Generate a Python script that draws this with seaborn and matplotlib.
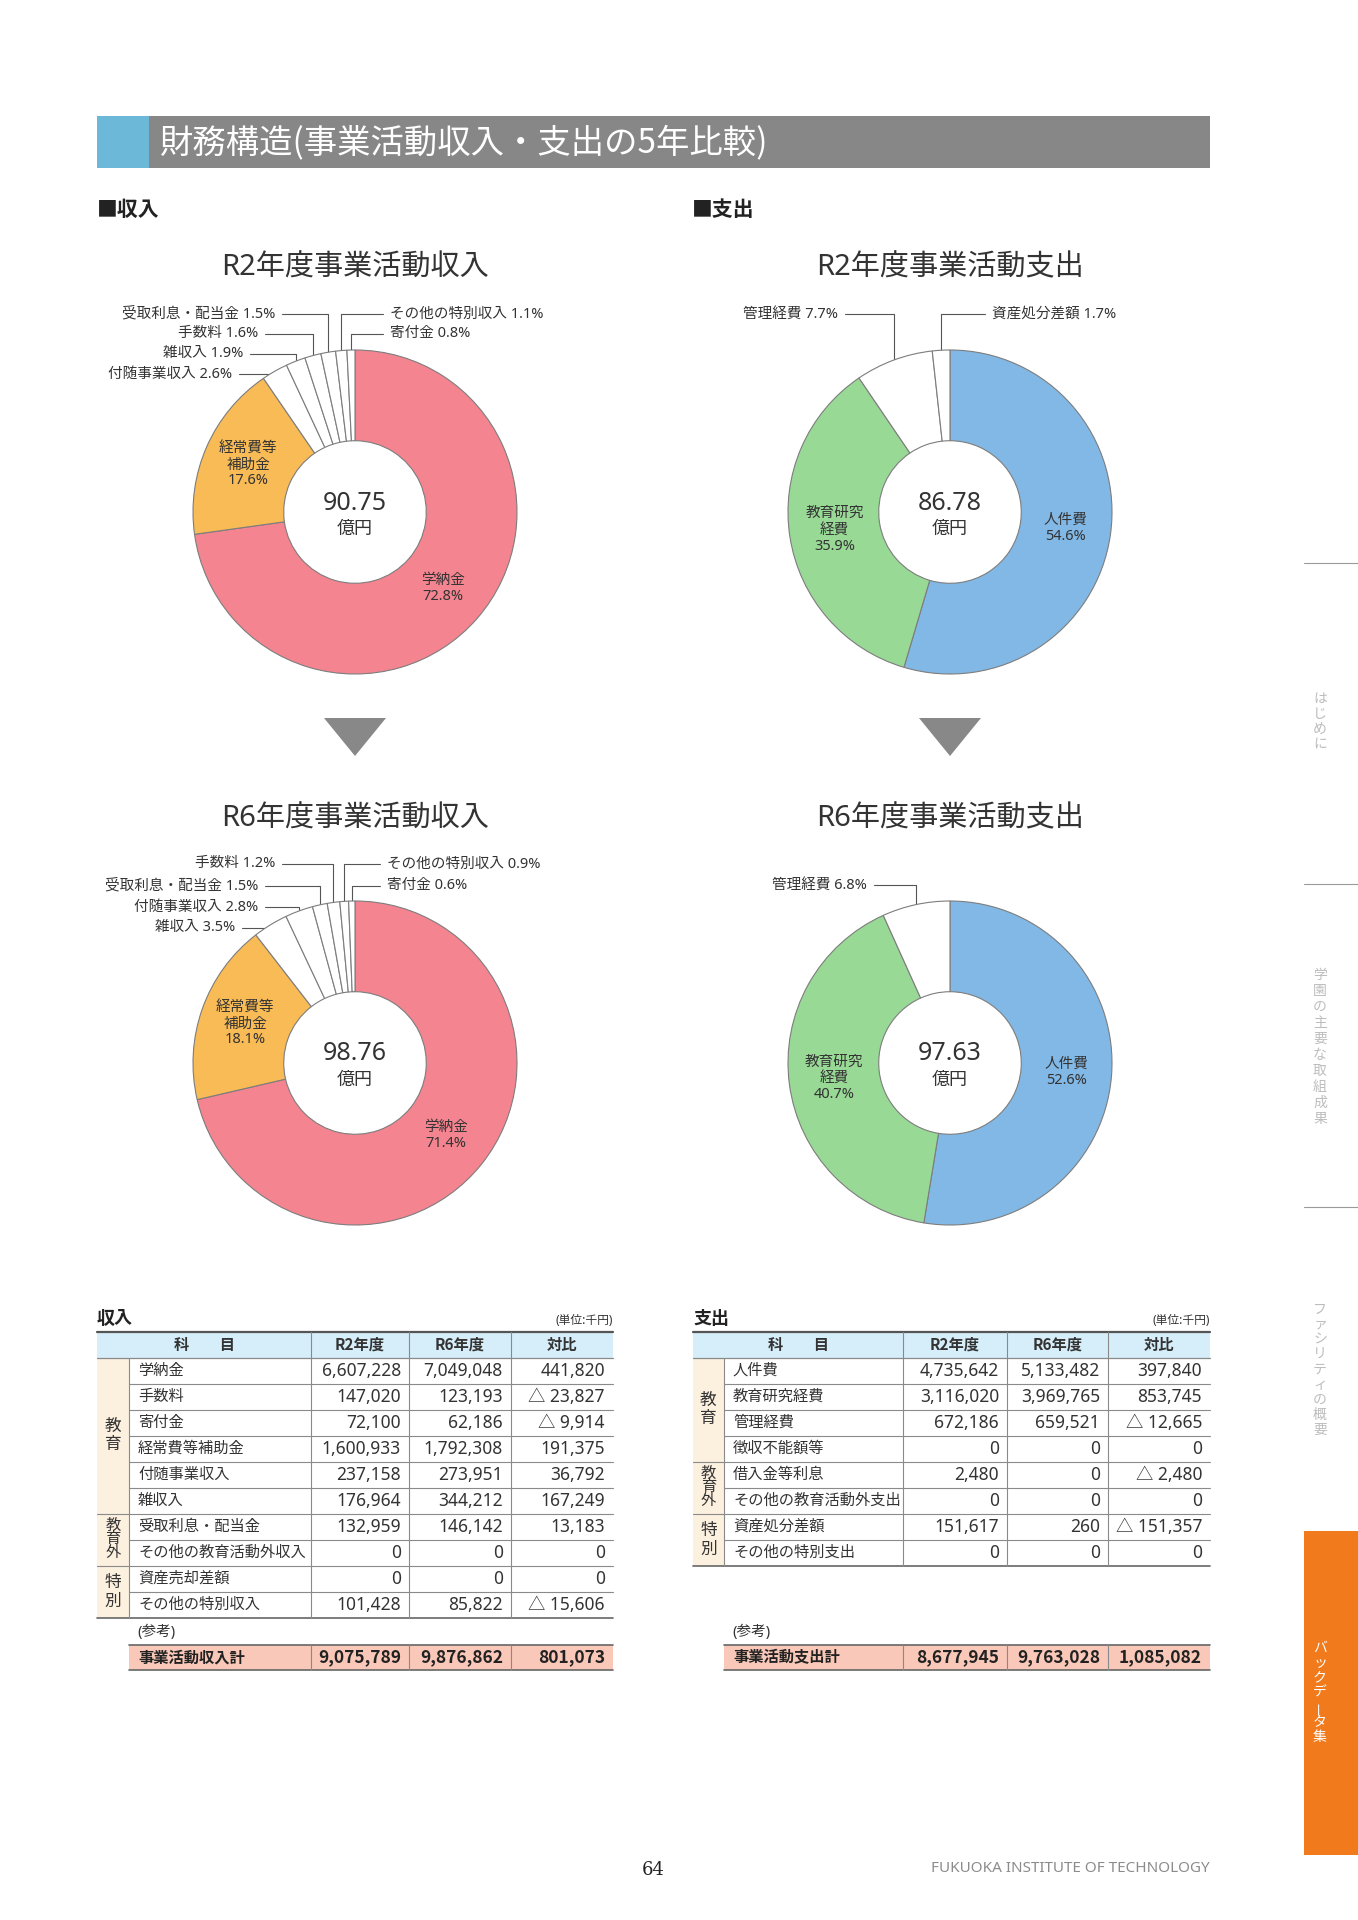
import numpy as np
import matplotlib
matplotlib.use("Agg")
import matplotlib.pyplot as plt
import seaborn as sns
from matplotlib.patches import Rectangle, Polygon

sns.set_theme(style="white")
plt.rcParams["font.family"] = ["Noto Sans", "Noto Sans CJK JP", "DejaVu Sans"]
CJK = ["Noto Sans CJK JP", "DejaVu Sans"]

# ---- table data (単位:千円) ----
income_items = ["学納金", "手数料", "寄付金", "経常費等補助金", "付随事業収入", "雑収入",
                "受取利息・配当金", "その他の教育活動外収入", "資産売却差額", "その他の特別収入"]
income_r2 = [6607228, 147020, 72100, 1600933, 237158, 176964, 132959, 0, 0, 101428]
income_r6 = [7049048, 123193, 62186, 1792308, 273951, 344212, 146142, 0, 0, 85822]
income_diff = [441820, -23827, -9914, 191375, 36792, 167249, 13183, 0, 0, -15606]
income_groups = [("教育", 6), ("教育外", 2), ("特別", 2)]
income_total = [9075789, 9876862, 801073]

expense_items = ["人件費", "教育研究経費", "管理経費", "徴収不能額等", "借入金等利息",
                 "その他の教育活動外支出", "資産処分差額", "その他の特別支出"]
expense_r2 = [4735642, 3116020, 672186, 0, 2480, 0, 151617, 0]
expense_r6 = [5133482, 3969765, 659521, 0, 0, 0, 260, 0]
expense_diff = [397840, 853745, -12665, 0, -2480, 0, -151357, 0]
expense_groups = [("教育", 4), ("教育外", 2), ("特別", 2)]
expense_total = [8677945, 9763028, 1085082]

# ---- pie slices, clockwise from 12 o'clock, with printed percentages ----
inc_r2_slices = ["学納金", "経常費等補助金", "付随事業収入", "雑収入", "手数料",
                 "受取利息・配当金", "その他の特別収入", "寄付金"]
inc_r2_pct = [72.8, 17.6, 2.6, 1.9, 1.6, 1.5, 1.1, 0.8]
inc_r6_slices = ["学納金", "経常費等補助金", "雑収入", "付随事業収入", "受取利息・配当金",
                 "手数料", "その他の特別収入", "寄付金"]
inc_r6_pct = [71.4, 18.1, 3.5, 2.8, 1.5, 1.2, 0.9, 0.6]
exp_r2_slices = ["人件費", "教育研究経費", "管理経費", "資産処分差額"]
exp_r2_pct = [54.6, 35.9, 7.7, 1.7]
exp_r6_slices = ["人件費", "教育研究経費", "管理経費"]
exp_r6_pct = [52.6, 40.7, 6.8]
center_values = ["90.75", "86.78", "98.76", "97.63"]

slice_colors = {"学納金": "#f4848f", "経常費等補助金": "#f8bb55",
                "人件費": "#82b8e5", "教育研究経費": "#99d996"}
inner_names = {"学納金": "学納金", "経常費等補助金": "経常費等\n補助金",
               "人件費": "人件費", "教育研究経費": "教育研究\n経費"}

W, H = 1358, 1920
TXT = "#333333"
fig = plt.figure(figsize=(W / 100, H / 100), dpi=100)
page = fig.add_axes([0, 0, 1, 1])
page.set_xlim(0, W)
page.set_ylim(H, 0)
page.axis("off")

# title bar
page.add_patch(Rectangle((97, 116), 52, 52, color="#6cb8d8", lw=0))
page.add_patch(Rectangle((149, 116), 1061, 52, color="#878787", lw=0))
page.text(160, 143, "財務構造(事業活動収入・支出の5年比較)", color="white",
          fontsize=24, va="center", family=CJK)
page.text(97, 209, "■収入", fontsize=15, fontweight="bold", va="center", color="#222", family=CJK)
page.text(692, 209, "■支出", fontsize=15, fontweight="bold", va="center", color="#222", family=CJK)

R = 162


def lookup(items, vals):
    return dict(zip(items, vals))


def draw_pie(cx, cy, title, names, table, pcts, center_txt, leaders):
    page.text(cx, cy - 244, title, fontsize=21, ha="center", va="center", color=TXT)
    L = 1.08
    ax = fig.add_axes([(cx - L * R) / W, 1 - (cy + L * R) / H, 2 * L * R / W, 2 * L * R / H])
    values = [table[n] for n in names]
    cols = [slice_colors.get(n, "white") for n in names]
    wedges, _ = ax.pie(values, colors=cols, startangle=90, counterclock=False,
                       wedgeprops=dict(width=0.56, edgecolor="#7d7d7d", linewidth=0.8))
    ax.set_xlim(-L, L)
    ax.set_ylim(-L, L)
    ax.set_aspect("equal")
    ax.axis("off")
    for w, n, p in zip(wedges, names, pcts):
        mid = np.deg2rad((w.theta1 + w.theta2) / 2)
        if n in inner_names:
            ax.text(0.72 * np.cos(mid), 0.72 * np.sin(mid), f"{inner_names[n]}\n{p}%",
                    ha="center", va="center", fontsize=10.5, linespacing=1.1, color=TXT)
        else:
            side, tx, ty = leaders[n]
            ex, ey = cx + R * np.cos(mid), cy - R * np.sin(mid)
            if side == "l":
                page.plot([tx + 7, ex, ex], [ty, ty, ey], color="#555", lw=0.8)
                page.text(tx, ty, f"{n} {p}%", ha="right", va="center", fontsize=10.5, color=TXT)
            else:
                page.plot([tx - 7, ex, ex], [ty, ty, ey], color="#555", lw=0.8)
                page.text(tx, ty, f"{n} {p}%", ha="left", va="center", fontsize=10.5, color=TXT)
    page.text(cx, cy - 9, center_txt, fontsize=18, ha="center", va="center", color=TXT)
    page.text(cx, cy + 17, "億円", fontsize=13, ha="center", va="center", color=TXT)


inc_r2_tab = lookup(income_items, income_r2)
inc_r6_tab = lookup(income_items, income_r6)
exp_r2_tab = lookup(expense_items, expense_r2)
exp_r6_tab = lookup(expense_items, expense_r6)

draw_pie(355, 512, "R2年度事業活動収入", inc_r2_slices, inc_r2_tab, inc_r2_pct, center_values[0],
         {"受取利息・配当金": ("l", 275, 314), "手数料": ("l", 258, 334),
          "雑収入": ("l", 243, 354), "付随事業収入": ("l", 232, 374),
          "その他の特別収入": ("r", 390, 314), "寄付金": ("r", 390, 334)})
draw_pie(950, 512, "R2年度事業活動支出", exp_r2_slices, exp_r2_tab, exp_r2_pct, center_values[1],
         {"管理経費": ("l", 838, 314), "資産処分差額": ("r", 992, 314)})
draw_pie(355, 1063, "R6年度事業活動収入", inc_r6_slices, inc_r6_tab, inc_r6_pct, center_values[2],
         {"手数料": ("l", 275, 864), "受取利息・配当金": ("l", 258, 886),
          "付随事業収入": ("l", 258, 907), "雑収入": ("l", 235, 928),
          "その他の特別収入": ("r", 387, 864), "寄付金": ("r", 387, 886)})
draw_pie(950, 1063, "R6年度事業活動支出", exp_r6_slices, exp_r6_tab, exp_r6_pct, center_values[3],
         {"管理経費": ("l", 867, 885)})

# arrows between years
for cx in (355, 950):
    page.add_patch(Polygon([(cx - 31, 718), (cx + 31, 718), (cx, 756)], color="#888888", lw=0))


def fmt(v):
    return f"△ {-v:,}" if v < 0 else f"{v:,}"


def vtext(x, yc, s, step, size, color):
    n = len(s)
    for i, ch in enumerate(s):
        y = yc + (i - (n - 1) / 2) * step
        rot = 90 if ch == "ー" else 0
        page.text(x, y, ch, fontsize=size, ha="center", va="center", color=color, rotation=rot)


def draw_table(x, heading, total_label, items, r2, r6, diff, groups, total):
    top, hh, rh = 1332, 26, 26
    n = len(items)
    bottom = top + hh + n * rh
    page.text(x[0], top - 14, heading, fontsize=13, fontweight="bold", va="center",
              color="#222", family=CJK)
    page.text(x[5], top - 12, "(単位:千円)", fontsize=8.5, ha="right", va="center", color=TXT)
    page.add_patch(Rectangle((x[0], top), x[5] - x[0], hh, color="#d6eef9", lw=0))
    page.add_patch(Rectangle((x[0], top + hh), x[1] - x[0], n * rh, color="#fcf0df", lw=0))
    page.text((x[0] + x[2]) / 2, top + hh / 2, "科　　目", fontsize=11, fontweight="bold",
              ha="center", va="center", color=TXT, family=CJK)
    for j, lab in enumerate(["R2年度", "R6年度", "対比"]):
        page.text((x[2 + j] + x[3 + j]) / 2, top + hh / 2, lab, fontsize=11, fontweight="bold",
                  ha="center", va="center", color=TXT, family=CJK)
    for i in range(n):
        yc = top + hh + (i + 0.5) * rh
        page.text(x[1] + 9, yc, items[i], fontsize=11, va="center", color=TXT)
        for j, v in enumerate([r2[i], r6[i], diff[i]]):
            page.text(x[3 + j] - 8, yc, fmt(v), fontsize=12.5, ha="right", va="center", color=TXT)
    # group labels and row lines
    boundaries = set()
    k = 0
    for g, cnt in groups:
        yc = top + hh + (k + cnt / 2) * rh
        step = 19 if len(g) == 2 else 14
        vtext((x[0] + x[1]) / 2, yc, g, step, 12 if len(g) == 2 else 11, TXT)
        k += cnt
        boundaries.add(k)
    for i in range(1, n):
        y = top + hh + i * rh
        x_start = x[0] if i in boundaries else x[1]
        page.plot([x_start, x[5]], [y, y], color="#8a8a8a", lw=0.8)
    page.plot([x[0], x[5]], [top, top], color="#555", lw=1.6)
    page.plot([x[0], x[5]], [top + hh, top + hh], color="#8a8a8a", lw=0.9)
    page.plot([x[0], x[5]], [bottom, bottom], color="#666", lw=1.2)
    page.plot([x[1], x[1]], [top + hh, bottom], color="#8a8a8a", lw=0.8)
    for xv in x[2:5]:
        page.plot([xv, xv], [top, bottom], color="#8a8a8a", lw=0.8)
    # total row
    ty0, th = 1645, 25
    page.text(x[1] + 8, ty0 - 13, "(参考)", fontsize=10.5, va="center", color=TXT)
    page.add_patch(Rectangle((x[1], ty0), x[5] - x[1], th, color="#f9c8b8", lw=0))
    page.plot([x[1], x[5]], [ty0, ty0], color="#666", lw=1.2)
    page.plot([x[1], x[5]], [ty0 + th, ty0 + th], color="#666", lw=1.2)
    for xv in x[2:5]:
        page.plot([xv, xv], [ty0, ty0 + th], color="#8a8a8a", lw=0.8)
    page.text(x[1] + 9, ty0 + th / 2, total_label, fontsize=11, fontweight="bold",
              va="center", color="#222", family=CJK)
    for j, v in enumerate(total):
        page.text(x[3 + j] - 8, ty0 + th / 2, fmt(v), fontsize=12.5, fontweight="bold",
                  ha="right", va="center", color="#222", family=CJK)


draw_table([97, 129, 311, 409, 511, 613], "収入", "事業活動収入計",
           income_items, income_r2, income_r6, income_diff, income_groups, income_total)
draw_table([693, 724, 903, 1007, 1108, 1210], "支出", "事業活動支出計",
           expense_items, expense_r2, expense_r6, expense_diff, expense_groups, expense_total)

# side index tabs
for y in (563, 884, 1207):
    page.plot([1304, W], [y, y], color="#9a9a9a", lw=0.8)
page.add_patch(Rectangle((1304, 1531), W - 1304, 324, color="#f07a1c", lw=0))
vtext(1320, 722, "はじめに", 15, 10, "#bdbdbd")
vtext(1320, 1047, "学園の主要な取組成果", 16, 10, "#bdbdbd")
vtext(1320, 1370, "ファシリティの概要", 15, 10, "#bdbdbd")
vtext(1320, 1693, "バックデータ集", 15, 10, "white")

# footer
page.text(653, 1870, "64", fontsize=13, ha="center", va="center", family="DejaVu Serif", color="#222")
page.text(1210, 1868, "FUKUOKA INSTITUTE OF TECHNOLOGY", fontsize=11, ha="right",
          va="center", color="#8c8c8c")

fig.savefig("out.png", dpi=100, facecolor="white")
